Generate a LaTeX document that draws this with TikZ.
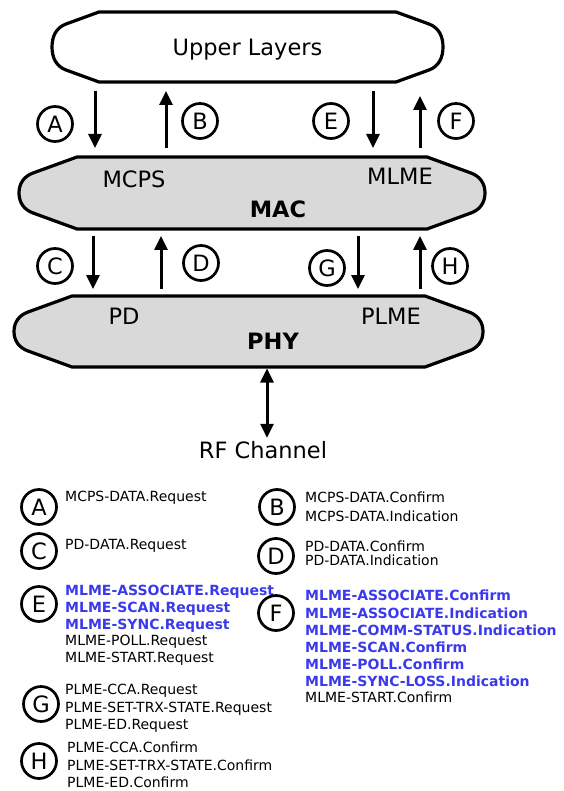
\documentclass[tikz,border=0pt]{standalone}
\usepackage{fontspec}
\setmainfont{DejaVu Sans}
\usetikzlibrary{arrows.meta, backgrounds}

\definecolor{layergray}{RGB}{217,217,217}
\definecolor{primblue}{RGB}{58,58,235}

% outline of a layer, drawn behind the named body node
\newcommand{\layeroutline}[3]{%
  \begin{scope}[on background layer]
    \draw[outline, fill=#3] ([xshift=#2]#1.north west) -- ([xshift=-#2]#1.north east)
      -- ([xshift=-14pt, yshift={-(#2-14pt)*tan(20)}]#1.north east) to[out=-20,in=90] (#1.east)
      to[out=-90,in=20] ([xshift=-14pt, yshift={(#2-14pt)*tan(20)}]#1.south east)
      -- ([xshift=-#2]#1.south east) -- ([xshift=#2]#1.south west)
      -- ([xshift=14pt, yshift={(#2-14pt)*tan(20)}]#1.south west) to[out=160,in=-90] (#1.west)
      to[out=90,in=200] ([xshift=14pt, yshift={-(#2-14pt)*tan(20)}]#1.north west) -- cycle;
  \end{scope}}
\newcommand{\hicall}[1]{\textcolor{primblue}{\textbf{#1}}}

\begin{document}
\begin{tikzpicture}[
    x=1pt, y=1pt,
    outline/.style={line width=3.2pt, line join=round},
    layer/.style={draw=none, rectangle, inner sep=0pt, outer sep=0pt, text depth=0pt, font=\fontsize{22.5}{27}\selectfont},
    lbl/.style={font=\fontsize{22.5}{27}\selectfont},
    boldlbl/.style={font=\fontsize{22.5}{27}\selectfont\bfseries},
    tag/.style={draw, circle, line width=2.7pt, minimum size=35pt, inner sep=0pt, font=\fontsize{22.5}{27}\selectfont},
    sig/.style={line width=3pt, -{Triangle[length=14pt, width=13pt]}, shorten <=9pt, shorten >=9pt},
    calls/.style={anchor=north west, align=left, inner sep=0pt, font=\fontsize{14}{16.8}\selectfont}
]
    \useasboundingbox (0,0) rectangle (563,-791);

    % Layers
    \node[layer, minimum width=391pt, minimum height=70pt] (ul) at (247.5,-47) {Upper Layers};
    \node[layer, minimum width=466pt, minimum height=72pt] (mac) at (252,-193) {};
    \node[layer, minimum width=469pt, minimum height=71pt] (phy) at (248.5,-331.5) {};
    \layeroutline{ul}{47pt}{white}
    \layeroutline{mac}{58pt}{layergray}
    \layeroutline{phy}{58pt}{layergray}

    \node[lbl] (mcps) at (134,-179) {MCPS};
    \node[lbl] (mlme) at (400,-176) {MLME};
    \node[boldlbl] (macname) at (278,-209) {MAC};
    \node[lbl] (pd) at (124,-316) {PD};
    \node[lbl] (plme) at (391,-316) {PLME};
    \node[boldlbl] (phyname) at (273,-341) {PHY};
    \node[lbl] (rf) at (263,-450) {RF Channel};

    % Service access points
    \node[tag] (ta) at (55,-124) {A};
    \node[tag] (tb) at (200,-121) {B};
    \node[tag] (te) at (331,-121) {E};
    \node[tag] (tf) at (456,-121) {F};
    \node[tag] (tc) at (55,-266) {C};
    \node[tag] (td) at (201,-263) {D};
    \node[tag] (tg) at (327,-268) {G};
    \node[tag] (th) at (450,-266) {H};

    % Arrow columns
    \coordinate (colA) at (95,0);
    \coordinate (colB) at (166,0);
    \coordinate (colE) at (373,0);
    \coordinate (colF) at (420,0);
    \coordinate (colC) at (93,0);
    \coordinate (colD) at (161,0);
    \coordinate (colG) at (358,0);
    \coordinate (colH) at (420,0);
    \coordinate (colRF) at (267,0);

    \draw[sig] (ul.south -| colA) -- (mac.north -| colA);
    \draw[sig] (mac.north -| colB) -- (ul.south -| colB);
    \draw[sig] (ul.south -| colE) -- (mac.north -| colE);
    \draw[sig, shorten >=14pt] (mac.north -| colF) -- (ul.south -| colF);

    \draw[sig, shorten <=7pt, shorten >=7pt] (mac.south -| colC) -- (phy.north -| colC);
    \draw[sig, shorten <=7pt, shorten >=7pt] (phy.north -| colD) -- (mac.south -| colD);
    \draw[sig, shorten <=7pt, shorten >=7pt] (mac.south -| colG) -- (phy.north -| colG);
    \draw[sig, shorten <=7pt, shorten >=7pt] (phy.north -| colH) -- (mac.south -| colH);

    \draw[sig, {Triangle[length=14pt, width=13pt]}-{Triangle[length=14pt, width=13pt]}, shorten <=1.5pt, shorten >=0pt] (phy.south -| colRF) -- (rf.north -| colRF);

    % Legend
    \node[tag] (la) at (39,-507) {A};
    \node[calls] (calla) at (65,-491) {MCPS-DATA.Request};
    \node[tag] (lb) at (277,-507) {B};
    \node[calls, font=\fontsize{14}{19}\selectfont] (callb) at (305,-492) {MCPS-DATA.Confirm\\MCPS-DATA.Indication};
    \node[tag] (lc) at (39,-551) {C};
    \node[calls] (callc) at (65,-539) {PD-DATA.Request};
    \node[tag] (ld) at (276,-556) {D};
    \node[calls, font=\fontsize{14}{14}\selectfont] (calld) at (305,-541) {PD-DATA.Confirm\\PD-DATA.Indication};
    \node[tag] (le) at (39,-604) {E};
    \node[calls] (calle) at (65,-585) {\hicall{MLME-ASSOCIATE.Request}\\\hicall{MLME-SCAN.Request}\\\hicall{MLME-SYNC.Request}\\MLME-POLL.Request\\MLME-START.Request};
    \node[tag] (lf) at (276,-613) {F};
    \node[calls] (callf) at (305,-590) {\hicall{MLME-ASSOCIATE.Confirm}\\[1.2pt]\hicall{MLME-ASSOCIATE.Indication}\\\hicall{MLME-COMM-STATUS.Indication}\\\hicall{MLME-SCAN.Confirm}\\\hicall{MLME-POLL.Confirm}\\\hicall{MLME-SYNC-LOSS.Indication}\\MLME-START.Confirm};
    \node[tag] (lg) at (41,-704) {G};
    \node[calls, font=\fontsize{14}{17.5}\selectfont] (callg) at (65,-684) {PLME-CCA.Request\\PLME-SET-TRX-STATE.Request\\PLME-ED.Request};
    \node[tag] (lh) at (39,-761) {H};
    \node[calls, font=\fontsize{14}{17.5}\selectfont] (callh) at (67,-742) {PLME-CCA.Confirm\\PLME-SET-TRX-STATE.Confirm\\PLME-ED.Confirm};
\end{tikzpicture}
\end{document}
